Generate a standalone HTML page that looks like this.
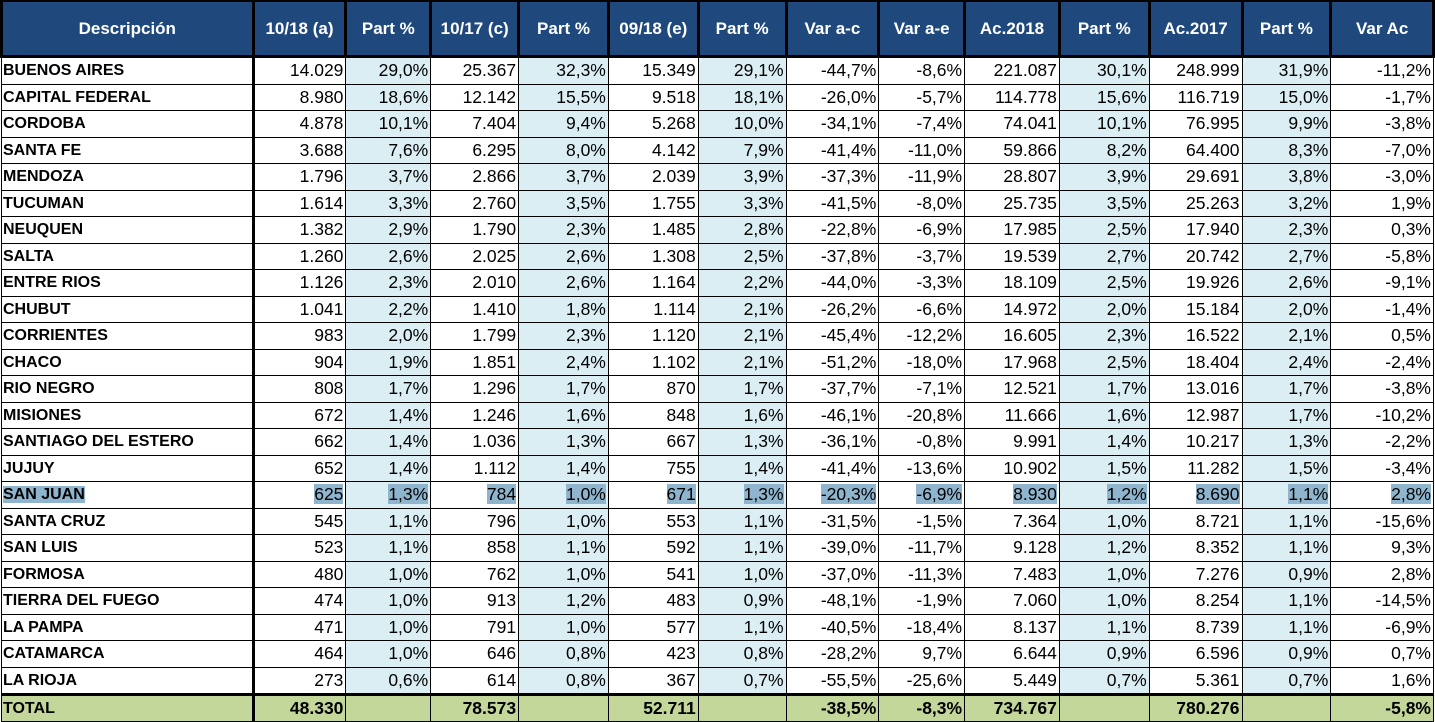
<!DOCTYPE html>
<html><head><meta charset="utf-8"><style>
body{margin:0;background:#fff;width:1435px;height:719px;overflow:hidden}
table{border-collapse:collapse;table-layout:fixed;font-family:"Liberation Sans",Arial,sans-serif;font-size:17.5px;position:absolute;left:0;top:0}
td,th{padding:0 2px;white-space:nowrap;overflow:hidden;border:1px solid #000;height:25.5px;line-height:25px}
th{background:#1f497d;color:#fff;height:53px;font-size:17px;border:3px solid #000;border-top:2px solid #000}
td{text-align:right}
td.d{text-align:left;font-weight:bold;border-right:3px solid #000;padding-left:1px;font-size:16px}
td.p{background:#dbeef4}
tr.t td{background:#c4d79b;font-weight:bold;border-top:3px solid #000;height:23px}
.h{background:#8fb4cd}
</style></head><body>
<table>
<colgroup><col style="width:252px"><col style="width:93px"><col style="width:85px"><col style="width:88px"><col style="width:90px"><col style="width:90px"><col style="width:88px"><col style="width:93px"><col style="width:86px"><col style="width:95px"><col style="width:90px"><col style="width:93px"><col style="width:89px"><col style="width:103px"></colgroup>
<tr><th>Descripción</th><th>10/18 (a)</th><th>Part %</th><th>10/17 (c)</th><th>Part %</th><th>09/18 (e)</th><th>Part %</th><th>Var a-c</th><th>Var a-e</th><th>Ac.2018</th><th>Part %</th><th>Ac.2017</th><th>Part %</th><th>Var Ac</th></tr>
<tr><td class="d">BUENOS AIRES</td><td>14.029</td><td class="p">29,0%</td><td>25.367</td><td class="p">32,3%</td><td>15.349</td><td class="p">29,1%</td><td>-44,7%</td><td>-8,6%</td><td>221.087</td><td class="p">30,1%</td><td>248.999</td><td class="p">31,9%</td><td>-11,2%</td></tr>
<tr><td class="d">CAPITAL FEDERAL</td><td>8.980</td><td class="p">18,6%</td><td>12.142</td><td class="p">15,5%</td><td>9.518</td><td class="p">18,1%</td><td>-26,0%</td><td>-5,7%</td><td>114.778</td><td class="p">15,6%</td><td>116.719</td><td class="p">15,0%</td><td>-1,7%</td></tr>
<tr><td class="d">CORDOBA</td><td>4.878</td><td class="p">10,1%</td><td>7.404</td><td class="p">9,4%</td><td>5.268</td><td class="p">10,0%</td><td>-34,1%</td><td>-7,4%</td><td>74.041</td><td class="p">10,1%</td><td>76.995</td><td class="p">9,9%</td><td>-3,8%</td></tr>
<tr><td class="d">SANTA FE</td><td>3.688</td><td class="p">7,6%</td><td>6.295</td><td class="p">8,0%</td><td>4.142</td><td class="p">7,9%</td><td>-41,4%</td><td>-11,0%</td><td>59.866</td><td class="p">8,2%</td><td>64.400</td><td class="p">8,3%</td><td>-7,0%</td></tr>
<tr><td class="d">MENDOZA</td><td>1.796</td><td class="p">3,7%</td><td>2.866</td><td class="p">3,7%</td><td>2.039</td><td class="p">3,9%</td><td>-37,3%</td><td>-11,9%</td><td>28.807</td><td class="p">3,9%</td><td>29.691</td><td class="p">3,8%</td><td>-3,0%</td></tr>
<tr><td class="d">TUCUMAN</td><td>1.614</td><td class="p">3,3%</td><td>2.760</td><td class="p">3,5%</td><td>1.755</td><td class="p">3,3%</td><td>-41,5%</td><td>-8,0%</td><td>25.735</td><td class="p">3,5%</td><td>25.263</td><td class="p">3,2%</td><td>1,9%</td></tr>
<tr><td class="d">NEUQUEN</td><td>1.382</td><td class="p">2,9%</td><td>1.790</td><td class="p">2,3%</td><td>1.485</td><td class="p">2,8%</td><td>-22,8%</td><td>-6,9%</td><td>17.985</td><td class="p">2,5%</td><td>17.940</td><td class="p">2,3%</td><td>0,3%</td></tr>
<tr><td class="d">SALTA</td><td>1.260</td><td class="p">2,6%</td><td>2.025</td><td class="p">2,6%</td><td>1.308</td><td class="p">2,5%</td><td>-37,8%</td><td>-3,7%</td><td>19.539</td><td class="p">2,7%</td><td>20.742</td><td class="p">2,7%</td><td>-5,8%</td></tr>
<tr><td class="d">ENTRE RIOS</td><td>1.126</td><td class="p">2,3%</td><td>2.010</td><td class="p">2,6%</td><td>1.164</td><td class="p">2,2%</td><td>-44,0%</td><td>-3,3%</td><td>18.109</td><td class="p">2,5%</td><td>19.926</td><td class="p">2,6%</td><td>-9,1%</td></tr>
<tr><td class="d">CHUBUT</td><td>1.041</td><td class="p">2,2%</td><td>1.410</td><td class="p">1,8%</td><td>1.114</td><td class="p">2,1%</td><td>-26,2%</td><td>-6,6%</td><td>14.972</td><td class="p">2,0%</td><td>15.184</td><td class="p">2,0%</td><td>-1,4%</td></tr>
<tr><td class="d">CORRIENTES</td><td>983</td><td class="p">2,0%</td><td>1.799</td><td class="p">2,3%</td><td>1.120</td><td class="p">2,1%</td><td>-45,4%</td><td>-12,2%</td><td>16.605</td><td class="p">2,3%</td><td>16.522</td><td class="p">2,1%</td><td>0,5%</td></tr>
<tr><td class="d">CHACO</td><td>904</td><td class="p">1,9%</td><td>1.851</td><td class="p">2,4%</td><td>1.102</td><td class="p">2,1%</td><td>-51,2%</td><td>-18,0%</td><td>17.968</td><td class="p">2,5%</td><td>18.404</td><td class="p">2,4%</td><td>-2,4%</td></tr>
<tr><td class="d">RIO NEGRO</td><td>808</td><td class="p">1,7%</td><td>1.296</td><td class="p">1,7%</td><td>870</td><td class="p">1,7%</td><td>-37,7%</td><td>-7,1%</td><td>12.521</td><td class="p">1,7%</td><td>13.016</td><td class="p">1,7%</td><td>-3,8%</td></tr>
<tr><td class="d">MISIONES</td><td>672</td><td class="p">1,4%</td><td>1.246</td><td class="p">1,6%</td><td>848</td><td class="p">1,6%</td><td>-46,1%</td><td>-20,8%</td><td>11.666</td><td class="p">1,6%</td><td>12.987</td><td class="p">1,7%</td><td>-10,2%</td></tr>
<tr><td class="d">SANTIAGO DEL ESTERO</td><td>662</td><td class="p">1,4%</td><td>1.036</td><td class="p">1,3%</td><td>667</td><td class="p">1,3%</td><td>-36,1%</td><td>-0,8%</td><td>9.991</td><td class="p">1,4%</td><td>10.217</td><td class="p">1,3%</td><td>-2,2%</td></tr>
<tr><td class="d">JUJUY</td><td>652</td><td class="p">1,4%</td><td>1.112</td><td class="p">1,4%</td><td>755</td><td class="p">1,4%</td><td>-41,4%</td><td>-13,6%</td><td>10.902</td><td class="p">1,5%</td><td>11.282</td><td class="p">1,5%</td><td>-3,4%</td></tr>
<tr><td class="d"><span class="h">SAN JUAN</span></td><td><span class="h">625</span></td><td class="p"><span class="h">1,3%</span></td><td><span class="h">784</span></td><td class="p"><span class="h">1,0%</span></td><td><span class="h">671</span></td><td class="p"><span class="h">1,3%</span></td><td><span class="h">-20,3%</span></td><td><span class="h">-6,9%</span></td><td><span class="h">8.930</span></td><td class="p"><span class="h">1,2%</span></td><td><span class="h">8.690</span></td><td class="p"><span class="h">1,1%</span></td><td><span class="h">2,8%</span></td></tr>
<tr><td class="d">SANTA CRUZ</td><td>545</td><td class="p">1,1%</td><td>796</td><td class="p">1,0%</td><td>553</td><td class="p">1,1%</td><td>-31,5%</td><td>-1,5%</td><td>7.364</td><td class="p">1,0%</td><td>8.721</td><td class="p">1,1%</td><td>-15,6%</td></tr>
<tr><td class="d">SAN LUIS</td><td>523</td><td class="p">1,1%</td><td>858</td><td class="p">1,1%</td><td>592</td><td class="p">1,1%</td><td>-39,0%</td><td>-11,7%</td><td>9.128</td><td class="p">1,2%</td><td>8.352</td><td class="p">1,1%</td><td>9,3%</td></tr>
<tr><td class="d">FORMOSA</td><td>480</td><td class="p">1,0%</td><td>762</td><td class="p">1,0%</td><td>541</td><td class="p">1,0%</td><td>-37,0%</td><td>-11,3%</td><td>7.483</td><td class="p">1,0%</td><td>7.276</td><td class="p">0,9%</td><td>2,8%</td></tr>
<tr><td class="d">TIERRA DEL FUEGO</td><td>474</td><td class="p">1,0%</td><td>913</td><td class="p">1,2%</td><td>483</td><td class="p">0,9%</td><td>-48,1%</td><td>-1,9%</td><td>7.060</td><td class="p">1,0%</td><td>8.254</td><td class="p">1,1%</td><td>-14,5%</td></tr>
<tr><td class="d">LA PAMPA</td><td>471</td><td class="p">1,0%</td><td>791</td><td class="p">1,0%</td><td>577</td><td class="p">1,1%</td><td>-40,5%</td><td>-18,4%</td><td>8.137</td><td class="p">1,1%</td><td>8.739</td><td class="p">1,1%</td><td>-6,9%</td></tr>
<tr><td class="d">CATAMARCA</td><td>464</td><td class="p">1,0%</td><td>646</td><td class="p">0,8%</td><td>423</td><td class="p">0,8%</td><td>-28,2%</td><td>9,7%</td><td>6.644</td><td class="p">0,9%</td><td>6.596</td><td class="p">0,9%</td><td>0,7%</td></tr>
<tr><td class="d">LA RIOJA</td><td>273</td><td class="p">0,6%</td><td>614</td><td class="p">0,8%</td><td>367</td><td class="p">0,7%</td><td>-55,5%</td><td>-25,6%</td><td>5.449</td><td class="p">0,7%</td><td>5.361</td><td class="p">0,7%</td><td>1,6%</td></tr>
<tr class="t"><td class="d">TOTAL</td><td>48.330</td><td></td><td>78.573</td><td></td><td>52.711</td><td></td><td>-38,5%</td><td>-8,3%</td><td>734.767</td><td></td><td>780.276</td><td></td><td>-5,8%</td></tr>
</table>
</body></html>
